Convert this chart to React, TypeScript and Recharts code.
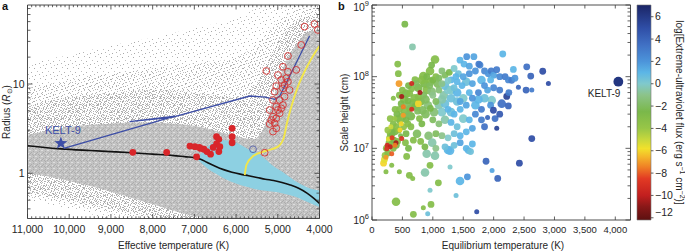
import React from 'react';
import { ComposedChart, Scatter, Line, Area, XAxis, YAxis, ReferenceArea } from 'recharts';

const FONT = '"Liberation Sans", Arial, Helvetica, sans-serif';
const FRAME = '#3a3a3a';
const INK = '#262626';

/* ================= Panel a ================= */
const teffMajor = [11000, 10000, 9000, 8000, 7000, 6000, 5000, 4000];
const teffMinorSteps = [100, 200, 300, 400, 500, 600, 700, 800, 900];
const teffTicks = [...teffMajor, ...teffMajor.slice(1).flatMap((m) => teffMinorSteps.map((s) => m + s))];
const radiusMajor = [1, 10];
const radiusMinor = [0.4, 0.5, 0.6, 0.7, 0.8, 0.9, 2, 3, 4, 5, 6, 7, 8, 9, 20, 30, 40, 50, 60, 70];
const radiusTicks = [...radiusMajor, ...radiusMinor];

// grey stellar cloud, lower / upper envelopes (density layers)
const cloudSparse = [
  { t: 11000, lo: 0.5, hi: 16 }, { t: 10500, lo: 0.45, hi: 19 }, { t: 10000, lo: 0.4, hi: 21 },
  { t: 9500, lo: 0.35, hi: 24 }, { t: 9000, lo: 0.312, hi: 27 }, { t: 8000, lo: 0.312, hi: 33 },
  { t: 7000, lo: 0.312, hi: 42 }, { t: 6000, lo: 0.312, hi: 55 }, { t: 5500, lo: 0.312, hi: 70 },
  { t: 5000, lo: 0.312, hi: 76.7 }, { t: 4000, lo: 0.312, hi: 76.7 },
];
const cloudLight = [
  { t: 11000, lo: 0.55, hi: 9 }, { t: 10000, lo: 0.45, hi: 11 }, { t: 9000, lo: 0.36, hi: 13 },
  { t: 8000, lo: 0.312, hi: 15 }, { t: 7000, lo: 0.312, hi: 17 }, { t: 6000, lo: 0.312, hi: 20 },
  { t: 5500, lo: 0.312, hi: 28 }, { t: 5000, lo: 0.312, hi: 50 }, { t: 4500, lo: 0.312, hi: 68 },
  { t: 4000, lo: 0.312, hi: 72 },
];
const cloudMedium = [
  { t: 11000, lo: 0.62, hi: 5.5 }, { t: 10500, lo: 0.56, hi: 6.5 }, { t: 10000, lo: 0.5, hi: 7 },
  { t: 9000, lo: 0.4, hi: 8 }, { t: 8000, lo: 0.33, hi: 8.5 }, { t: 7500, lo: 0.312, hi: 8.5 },
  { t: 7000, lo: 0.312, hi: 8 }, { t: 6500, lo: 0.312, hi: 7.5 }, { t: 6000, lo: 0.312, hi: 7 },
  { t: 5600, lo: 0.312, hi: 9 }, { t: 5300, lo: 0.312, hi: 15 }, { t: 5000, lo: 0.312, hi: 30 },
  { t: 4700, lo: 0.312, hi: 45 }, { t: 4400, lo: 0.312, hi: 55 }, { t: 4000, lo: 0.312, hi: 60 },
];
const cloudDense = [
  { t: 11000, lo: 1.0, hi: 2.7 }, { t: 10500, lo: 0.92, hi: 3.0 }, { t: 10000, lo: 0.82, hi: 3.3 },
  { t: 9500, lo: 0.72, hi: 3.5 }, { t: 9000, lo: 0.62, hi: 3.6 }, { t: 8500, lo: 0.53, hi: 3.7 },
  { t: 8000, lo: 0.45, hi: 3.7 }, { t: 7500, lo: 0.38, hi: 3.6 }, { t: 7000, lo: 0.33, hi: 3.4 },
  { t: 6500, lo: 0.312, hi: 3.0 }, { t: 6000, lo: 0.312, hi: 2.6 }, { t: 5600, lo: 0.312, hi: 2.4 },
  { t: 5300, lo: 0.312, hi: 3.5 }, { t: 5100, lo: 0.312, hi: 7 }, { t: 4900, lo: 0.312, hi: 14 },
  { t: 4700, lo: 0.312, hi: 22 }, { t: 4500, lo: 0.312, hi: 30 }, { t: 4300, lo: 0.312, hi: 38 },
  { t: 4000, lo: 0.312, hi: 40 },
];
// cyan sample (cooler dwarfs)
const cyanRegion = [
  { t: 6900, lo: 1.4, hi: 1.55 }, { t: 6700, lo: 1.15, hi: 1.95 }, { t: 6500, lo: 1.0, hi: 2.25 },
  { t: 6300, lo: 0.88, hi: 2.35 }, { t: 6100, lo: 0.8, hi: 2.3 }, { t: 5900, lo: 0.74, hi: 2.1 },
  { t: 5700, lo: 0.7, hi: 1.85 }, { t: 5500, lo: 0.66, hi: 1.7 }, { t: 5300, lo: 0.64, hi: 1.45 },
  { t: 5100, lo: 0.62, hi: 1.2 }, { t: 4900, lo: 0.6, hi: 1.05 }, { t: 4700, lo: 0.57, hi: 0.9 },
  { t: 4500, lo: 0.53, hi: 0.78 }, { t: 4300, lo: 0.48, hi: 0.7 }, { t: 4000, lo: 0.42, hi: 0.64 },
];
// zero-age main sequence (black)
const zamsLine = [
  { t: 11000, r: 2.04 }, { t: 10200, r: 1.88 }, { t: 9500, r: 1.8 }, { t: 9000, r: 1.75 },
  { t: 8500, r: 1.7 }, { t: 8000, r: 1.64 }, { t: 7500, r: 1.58 }, { t: 7200, r: 1.53 },
  { t: 7000, r: 1.5 }, { t: 6850, r: 1.44 }, { t: 6700, r: 1.33 }, { t: 6500, r: 1.2 },
  { t: 6300, r: 1.1 }, { t: 6100, r: 1.03 }, { t: 5900, r: 0.98 }, { t: 5700, r: 0.94 },
  { t: 5500, r: 0.9 }, { t: 5300, r: 0.86 }, { t: 5100, r: 0.83 }, { t: 4900, r: 0.79 },
  { t: 4700, r: 0.74 }, { t: 4500, r: 0.68 }, { t: 4300, r: 0.6 }, { t: 4150, r: 0.53 },
  { t: 4000, r: 0.46 },
];
// KELT-9 evolutionary track (blue)
const keltTrack = [
  { t: 10132, r: 1.9 }, { t: 7464, r: 4.38 }, { t: 8555, r: 3.79 }, { t: 7536, r: 4.22 },
  { t: 5672, r: 7.34 }, { t: 5300, r: 7.15 }, { t: 5075, r: 6.75 }, { t: 4956, r: 7.3 },
  { t: 4239, r: 34.5 },
];
// yellow track
const yellowTrack = [
  { t: 5792, r: 0.957 }, { t: 5752, r: 1.24 }, { t: 5593, r: 1.56 }, { t: 5274, r: 1.79 },
  { t: 4996, r: 1.99 }, { t: 4860, r: 2.47 }, { t: 4781, r: 3.63 }, { t: 4676, r: 5.57 },
  { t: 4518, r: 9.33 }, { t: 4279, r: 16.3 }, { t: 4120, r: 22 }, { t: 4000, r: 26.6 },
];
const hostsFilled = [
  { t: 8475, r: 1.72 }, { t: 7663, r: 1.72 }, { t: 7106, r: 2.02 }, { t: 6987, r: 1.99 },
  { t: 6883, r: 1.95 }, { t: 6771, r: 1.86 }, { t: 6946, r: 1.53 }, { t: 6612, r: 1.64 },
  { t: 6468, r: 2.57 }, { t: 6413, r: 2.4 }, { t: 6468, r: 2.13 }, { t: 6389, r: 1.99 },
  { t: 6413, r: 1.75 }, { t: 6095, r: 3.19 }, { t: 6095, r: 2.57 }, { t: 6095, r: 2.2 },
  { t: 6549, r: 1.95 }, { t: 6700, r: 1.75 }, { t: 6850, r: 1.9 },
];
const hostsOpen = [
  { t: 4359, r: 43.9 }, { t: 4120, r: 47 }, { t: 4040, r: 40.3 }, { t: 4438, r: 27.4 },
  { t: 4757, r: 20.6 }, { t: 4876, r: 15.6 }, { t: 4558, r: 14.4 }, { t: 5275, r: 14.0 },
  { t: 4996, r: 12.6 }, { t: 4916, r: 11.1 }, { t: 4757, r: 10.6 }, { t: 4837, r: 9.75 },
  { t: 5036, r: 9.5 }, { t: 4876, r: 8.94 }, { t: 5075, r: 8.2 }, { t: 4717, r: 8.57 },
  { t: 4837, r: 7.22 }, { t: 4956, r: 6.62 }, { t: 5115, r: 6.62 }, { t: 5036, r: 5.57 },
  { t: 4916, r: 5.34 }, { t: 4996, r: 5.12 }, { t: 5195, r: 5.12 }, { t: 5115, r: 4.31 },
  { t: 4956, r: 4.7 }, { t: 5036, r: 4.13 }, { t: 5155, r: 3.95 }, { t: 5075, r: 3.63 },
  { t: 5195, r: 3.57 }, { t: 5036, r: 3.19 }, { t: 5115, r: 2.93 }, { t: 5314, r: 1.7 },
  { t: 4876, r: 5.82 }, { t: 4797, r: 11.6 }, { t: 4757, r: 13.7 },
];
const hostsOpenBlue = [{ t: 5593, r: 1.86 }];
const kelt9Star = [{ t: 10200, r: 2.17, name: 'KELT-9' }];

/* ================= Panel b ================= */
const teqTicks = [0, 500, 1000, 1500, 2000, 2500, 3000, 3500, 4000];
const heightMajor = [1e6, 1e7, 1e8, 1e9];
const heightMinor = [1e6, 1e7, 1e8].flatMap((d) => [2, 3, 4, 5, 6, 7, 8, 9].map((k) => k * d));
const heightTicks = [...heightMajor, ...heightMinor];
const euvTicks = [-12, -10, -8, -6, -4, -2, 0, 2, 4, 6];

// t: equilibrium temperature (K), h: scale height (cm), v: log EUV flux, z: size class
const planetsCool = [
  { t: 190, h: 6.2e6, v: -6, z: 2 }, { t: 205, h: 7.0e6, v: -5.5, z: 2 }, { t: 215, h: 8.0e6, v: -4, z: 2 },
  { t: 230, h: 7.5e6, v: -7, z: 1 }, { t: 230, h: 4.7e6, v: -3, z: 1 }, { t: 324, h: 5.8e6, v: -3, z: 1 },
  { t: 324, h: 8.4e6, v: -8, z: 1 }, { t: 250, h: 1.1e7, v: -9.5, z: 1 }, { t: 235, h: 1.0e7, v: -3, z: 2 },
  { t: 280, h: 1.2e7, v: -3.5, z: 2 }, { t: 300, h: 1.05e7, v: -10, z: 1 }, { t: 320, h: 1.15e7, v: -3, z: 2 },
  { t: 350, h: 1.0e7, v: -3, z: 2 }, { t: 270, h: 1.35e7, v: -5.5, z: 1 }, { t: 330, h: 1.4e7, v: -8.5, z: 1 },
  { t: 300, h: 1.6e7, v: -3, z: 2 }, { t: 360, h: 1.3e7, v: -2.5, z: 2 }, { t: 394, h: 1.2e7, v: -10.5, z: 1 },
  { t: 400, h: 1.1e7, v: -2.5, z: 2 }, { t: 420, h: 1.25e7, v: -3, z: 2 }, { t: 340, h: 1.8e7, v: -3, z: 2 },
  { t: 380, h: 1.7e7, v: -2.5, z: 2 }, { t: 310, h: 2.0e7, v: -5, z: 1 }, { t: 350, h: 2.2e7, v: -3, z: 2 },
  { t: 400, h: 2.0e7, v: -3, z: 2 }, { t: 440, h: 1.8e7, v: -3.5, z: 2 }, { t: 470, h: 1.5e7, v: -2.5, z: 1 },
  { t: 420, h: 2.6e7, v: -3, z: 2 }, { t: 460, h: 1.8e7, v: -6, z: 1 }, { t: 480, h: 2.2e7, v: -6, z: 1 },
  { t: 488, h: 1.37e7, v: -9, z: 1 }, { t: 378, h: 1.1e7, v: -7.5, z: 1 }, { t: 242, h: 9.9e6, v: -9, z: 1 },
  { t: 500, h: 2.8e7, v: -3, z: 3 }, { t: 515, h: 2.9e7, v: -7, z: 1 }, { t: 515, h: 3.8e7, v: -7.5, z: 1 },
  { t: 545, h: 3.3e7, v: -3, z: 3 }, { t: 560, h: 2.5e7, v: -2.5, z: 2 }, { t: 590, h: 2.2e7, v: -3, z: 2 },
  { t: 600, h: 3.0e7, v: -2, z: 2 }, { t: 620, h: 3.6e7, v: -3, z: 2 }, { t: 653, h: 3.5e7, v: -9, z: 1 },
  { t: 488, h: 5.3e7, v: -10.5, z: 1 }, { t: 444, h: 8.0e7, v: -7, z: 2 }, { t: 653, h: 8.0e7, v: -9.5, z: 1 },
  { t: 351, h: 5.0e7, v: -3, z: 1 }, { t: 433, h: 1.1e8, v: -3, z: 2 }, { t: 423, h: 1.5e8, v: -3, z: 2 },
  { t: 540, h: 5.4e8, v: -2.5, z: 2 }, { t: 665, h: 2.6e8, v: -0.5, z: 2 }, { t: 450, h: 3.5e7, v: -3, z: 2 },
  { t: 480, h: 4.2e7, v: -2.5, z: 2 }, { t: 530, h: 4.8e7, v: -3, z: 3 }, { t: 580, h: 4.0e7, v: -2, z: 2 },
  { t: 620, h: 5.8e7, v: -3, z: 2 }, { t: 410, h: 3.0e7, v: -2.5, z: 2 }, { t: 370, h: 2.6e7, v: -4, z: 1 },
  { t: 560, h: 1.6e7, v: -2.5, z: 2 }, { t: 640, h: 2.0e7, v: -3, z: 2 }, { t: 520, h: 2.0e7, v: -3.5, z: 2 },
  { t: 570, h: 7.7e6, v: -3, z: 2 }, { t: 450, h: 4.7e6, v: -3, z: 1 }, { t: 614, h: 4.2e6, v: -3, z: 2 },
  { t: 669, h: 3.8e6, v: -3, z: 1 }, { t: 395, h: 1.8e6, v: -3, z: 3 }, { t: 680, h: 1.2e6, v: -3, z: 2 },
  { t: 550, h: 1.2e7, v: -3, z: 2 }, { t: 600, h: 1.0e7, v: -2.5, z: 2 }, { t: 680, h: 1.3e7, v: -3, z: 2 },
  { t: 260, h: 8.6e6, v: -3, z: 2 }, { t: 290, h: 1.4e7, v: -3, z: 2 }, { t: 330, h: 1.6e7, v: -2.5, z: 2 },
  { t: 460, h: 2.4e7, v: -3, z: 2 }, { t: 590, h: 4.6e7, v: -2.5, z: 2 }, { t: 640, h: 2.8e7, v: -2.5, z: 3 },
  { t: 560, h: 5.8e7, v: -2.5, z: 3 }, { t: 650, h: 6.8e7, v: -3, z: 2 }, { t: 680, h: 4.3e7, v: -2.5, z: 3 },
  { t: 500, h: 6.5e7, v: -3, z: 2 }, { t: 600, h: 7.5e7, v: -2.5, z: 2 }, { t: 380, h: 3.5e7, v: -3, z: 2 },
  { t: 300, h: 2.6e7, v: -3.5, z: 2 }, { t: 260, h: 1.8e7, v: -4, z: 2 }, { t: 450, h: 5.5e7, v: -3, z: 2 },
];
const planetsWarm = [
  { t: 707, h: 9.1e7, v: -3, z: 2 }, { t: 789, h: 6.0e7, v: -10.5, z: 1 }, { t: 762, h: 4.2e7, v: -6, z: 2 },
  { t: 700, h: 5.0e7, v: -3, z: 3 }, { t: 720, h: 3.8e7, v: -2.5, z: 3 }, { t: 750, h: 3.3e7, v: -2, z: 2 },
  { t: 800, h: 4.5e7, v: -2.5, z: 3 }, { t: 844, h: 1.02e8, v: -3, z: 3 }, { t: 954, h: 1.2e8, v: -3, z: 3 },
  { t: 1036, h: 1.74e8, v: -3, z: 3 }, { t: 870, h: 8.0e7, v: -2.5, z: 3 }, { t: 900, h: 6.5e7, v: -3, z: 3 },
  { t: 950, h: 7.5e7, v: -2, z: 2 }, { t: 1000, h: 9.0e7, v: -2.5, z: 2 }, { t: 1050, h: 1.0e8, v: -3, z: 2 },
  { t: 1100, h: 9.5e7, v: -2, z: 2 }, { t: 850, h: 5.5e7, v: -2, z: 2 }, { t: 780, h: 2.6e7, v: -3, z: 2 },
  { t: 820, h: 2.2e7, v: -2.5, z: 2 }, { t: 880, h: 3.0e7, v: -2, z: 3 }, { t: 920, h: 4.0e7, v: -1.5, z: 3 },
  { t: 960, h: 3.6e7, v: -2.5, z: 2 }, { t: 1000, h: 5.5e7, v: -1, z: 2 }, { t: 1050, h: 4.5e7, v: -2, z: 2 },
  { t: 1100, h: 6.5e7, v: -1.5, z: 2 }, { t: 1150, h: 8.0e7, v: -1, z: 2 }, { t: 1200, h: 1.05e8, v: -2, z: 2 },
  { t: 1270, h: 1.15e8, v: -2.5, z: 2 }, { t: 1180, h: 5.5e7, v: -0.5, z: 3 }, { t: 1250, h: 6.5e7, v: 0, z: 3 },
  { t: 1100, h: 4.0e7, v: -0.5, z: 3 }, { t: 1150, h: 3.2e7, v: 0, z: 3 }, { t: 1200, h: 4.2e7, v: 0.5, z: 3 },
  { t: 1250, h: 3.5e7, v: 1, z: 2 }, { t: 1200, h: 2.5e7, v: -0.5, z: 3 }, { t: 1100, h: 2.2e7, v: -1.5, z: 2 },
  { t: 1000, h: 2.5e7, v: -2, z: 2 }, { t: 1250, h: 1.4e7, v: 0, z: 2 }, { t: 1150, h: 1.5e7, v: -1, z: 2 },
  { t: 1050, h: 1.6e7, v: -2, z: 2 }, { t: 740, h: 1.6e7, v: -2, z: 3 }, { t: 800, h: 1.25e7, v: -3, z: 2 },
  { t: 870, h: 1.05e7, v: -2.5, z: 2 }, { t: 930, h: 1.5e7, v: -1.5, z: 3 }, { t: 990, h: 1.2e7, v: -0.5, z: 3 },
  { t: 1050, h: 1.0e7, v: -1, z: 2 }, { t: 1200, h: 1.05e7, v: 0.5, z: 2 }, { t: 1250, h: 9.5e6, v: 1, z: 3 },
  { t: 899, h: 8.4e6, v: -0.5, z: 3 }, { t: 1036, h: 7.9e6, v: -0.5, z: 3 }, { t: 954, h: 5.8e6, v: -3, z: 2 },
  { t: 872, h: 4.6e6, v: -0.5, z: 3 }, { t: 1091, h: 3.3e6, v: -3, z: 2 }, { t: 954, h: 2.6e6, v: 0, z: 1 },
  { t: 844, h: 1.48e6, v: -3, z: 1 }, { t: 970, h: 1.65e6, v: -3, z: 2 }, { t: 916, h: 1.22e6, v: 0.5, z: 1 },
  { t: 760, h: 7.0e7, v: -2.5, z: 3 }, { t: 980, h: 1.45e8, v: -2.5, z: 2 }, { t: 1150, h: 1.2e8, v: -1.5, z: 2 },
  { t: 830, h: 3.4e7, v: -2, z: 3 }, { t: 1020, h: 3.2e7, v: -1.5, z: 3 },
  { t: 720, h: 8.0e7, v: -2, z: 2 }, { t: 820, h: 9.0e7, v: -3, z: 3 }, { t: 900, h: 1.0e8, v: -2.5, z: 2 },
  { t: 960, h: 8.5e7, v: -3, z: 3 }, { t: 1080, h: 8.0e7, v: -2, z: 3 }, { t: 760, h: 5.2e7, v: -3, z: 2 },
  { t: 880, h: 4.8e7, v: -2, z: 3 }, { t: 980, h: 6.2e7, v: -1.5, z: 3 }, { t: 1150, h: 4.8e7, v: -0.5, z: 3 },
];
const planetsHot = [
  { t: 1283, h: 9.3e6, v: 1, z: 3 }, { t: 1283, h: 5.5e6, v: 0, z: 1 }, { t: 1447, h: 3.5e6, v: 1, z: 3 },
  { t: 1568, h: 4.0e6, v: 2, z: 2 }, { t: 1382, h: 2.2e6, v: 0.5, z: 1 }, { t: 1722, h: 1.3e6, v: 5, z: 1 },
  { t: 1875, h: 6.6e6, v: 4, z: 2 }, { t: 1974, h: 4.9e6, v: 1.5, z: 1 }, { t: 2067, h: 3.8e6, v: 4, z: 2 },
  { t: 2423, h: 6.2e6, v: 5, z: 2 }, { t: 1584, h: 9.3e6, v: 1, z: 2 }, { t: 1300, h: 5.0e7, v: 0.5, z: 3 },
  { t: 1350, h: 7.0e7, v: 0.5, z: 2 }, { t: 1400, h: 8.5e7, v: 1, z: 2 }, { t: 1447, h: 1.7e8, v: 1, z: 2 },
  { t: 1513, h: 1.5e8, v: 1, z: 2 }, { t: 1557, h: 1.9e8, v: 2, z: 2 }, { t: 1350, h: 1.3e8, v: 0, z: 2 },
  { t: 1300, h: 9.0e7, v: 1, z: 2 }, { t: 1420, h: 1.1e8, v: 0.5, z: 2 }, { t: 1500, h: 1.0e8, v: 1.5, z: 2 },
  { t: 1600, h: 1.1e8, v: 2, z: 2 }, { t: 1675, h: 1.9e8, v: 1.5, z: 2 }, { t: 1776, h: 1.45e8, v: 2.5, z: 2 },
  { t: 1756, h: 1.5e8, v: 3, z: 2 }, { t: 1850, h: 1.2e8, v: 2.5, z: 2 }, { t: 1913, h: 1.1e8, v: 2, z: 2 },
  { t: 1960, h: 1.2e8, v: 3, z: 2 }, { t: 2000, h: 1.05e8, v: 1.5, z: 2 }, { t: 2050, h: 1.25e8, v: 3, z: 2 },
  { t: 2100, h: 1.0e8, v: 2.5, z: 2 }, { t: 2150, h: 2.07e8, v: 1, z: 2 }, { t: 2188, h: 1.0e8, v: 3, z: 2 },
  { t: 2242, h: 9.0e7, v: 2.5, z: 2 }, { t: 2297, h: 8.9e7, v: 3, z: 2 }, { t: 2324, h: 1.26e8, v: 1, z: 2 },
  { t: 2215, h: 5.3e7, v: 5.5, z: 2 }, { t: 2133, h: 4.2e7, v: 3.5, z: 3 }, { t: 2242, h: 3.9e7, v: 4, z: 2 },
  { t: 2051, h: 1.9e7, v: 5.5, z: 1 }, { t: 2023, h: 2.6e7, v: 3.5, z: 2 }, { t: 1968, h: 4.7e7, v: 0, z: 3 },
  { t: 1350, h: 3.0e7, v: 1, z: 2 }, { t: 1400, h: 4.5e7, v: 0.5, z: 3 }, { t: 1450, h: 3.5e7, v: 1, z: 2 },
  { t: 1500, h: 5.0e7, v: 0, z: 3 }, { t: 1550, h: 4.0e7, v: 1.5, z: 2 }, { t: 1600, h: 6.0e7, v: 1, z: 2 },
  { t: 1650, h: 5.0e7, v: 2, z: 2 }, { t: 1700, h: 4.0e7, v: 1, z: 3 }, { t: 1750, h: 6.0e7, v: 2.5, z: 2 },
  { t: 1800, h: 3.5e7, v: 3, z: 2 }, { t: 1850, h: 5.0e7, v: 0.5, z: 3 }, { t: 1900, h: 6.5e7, v: 1.5, z: 2 },
  { t: 1950, h: 4.0e7, v: 2, z: 2 }, { t: 1996, h: 3.4e7, v: 5, z: 2 }, { t: 1900, h: 2.7e7, v: 4, z: 1 },
  { t: 1800, h: 2.5e7, v: 3, z: 2 }, { t: 1700, h: 3.0e7, v: 2.5, z: 2 }, { t: 1600, h: 2.5e7, v: 1, z: 2 },
  { t: 1500, h: 2.6e7, v: 0, z: 3 }, { t: 1400, h: 2.0e7, v: 0.5, z: 2 }, { t: 1300, h: 2.3e7, v: 1, z: 2 },
  { t: 1650, h: 1.9e7, v: 1.5, z: 2 }, { t: 1550, h: 1.7e7, v: 1, z: 2 }, { t: 1450, h: 1.5e7, v: 1, z: 2 },
  { t: 1350, h: 1.6e7, v: 0.5, z: 2 }, { t: 1350, h: 1.1e7, v: 0.5, z: 2 }, { t: 1450, h: 1.2e7, v: 1.5, z: 2 },
  { t: 1550, h: 1.0e7, v: 1, z: 2 }, { t: 1650, h: 1.15e7, v: 1, z: 2 }, { t: 1620, h: 9.0e6, v: 0.5, z: 2 },
  { t: 2100, h: 3.0e7, v: 4.5, z: 2 }, { t: 1850, h: 2.0e7, v: 3.5, z: 2 }, { t: 2250, h: 6.0e7, v: 3, z: 2 },
  { t: 2350, h: 9.5e7, v: 2, z: 2 },
  { t: 1200, h: 7.5e7, v: 0.5, z: 3 }, { t: 1300, h: 6.5e7, v: 0, z: 3 }, { t: 1400, h: 6.0e7, v: 1, z: 3 },
  { t: 1480, h: 7.5e7, v: 1, z: 2 }, { t: 1550, h: 8.5e7, v: 0.5, z: 3 }, { t: 1650, h: 8.0e7, v: 1.5, z: 2 },
  { t: 1700, h: 1.2e8, v: 2, z: 2 }, { t: 1800, h: 9.0e7, v: 1, z: 3 }, { t: 1380, h: 1.0e8, v: 1, z: 2 },
  { t: 1250, h: 8.8e7, v: 0, z: 2 }, { t: 1600, h: 1.4e8, v: 1.5, z: 2 }, { t: 1450, h: 4.5e7, v: 1.5, z: 2 },
  { t: 1750, h: 4.8e7, v: 1, z: 3 }, { t: 1850, h: 7.5e7, v: 2, z: 2 }, { t: 2000, h: 7.0e7, v: 2.5, z: 2 },
  { t: 2100, h: 6.5e7, v: 3, z: 2 }, { t: 1950, h: 9.0e7, v: 1, z: 2 }, { t: 1300, h: 3.2e7, v: 0.5, z: 3 },
];
const planetsUltraHot = [
  { t: 2407, h: 7.1e7, v: 4, z: 1 }, { t: 2544, h: 1.37e8, v: 3.5, z: 2 }, { t: 2533, h: 6.5e7, v: 4, z: 2 },
  { t: 2610, h: 1.02e8, v: 4, z: 2 }, { t: 2627, h: 6.5e7, v: 3, z: 1 }, { t: 2807, h: 1.19e8, v: 5, z: 2 },
  { t: 2900, h: 8.0e7, v: 5, z: 1 }, { t: 2627, h: 1.37e7, v: 5, z: 2 },
];
const kelt9b = [{ t: 4050, h: 8.5e7, v: 6.2, z: 4, name: 'KELT-9' }];

/* ================= styling helpers ================= */
const CMAP: [number, string][] = [
  [-12.2, '#5c1010'], [-11, '#8a1818'], [-10, '#c21f1f'], [-8.5, '#e23a24'], [-7.5, '#ef7d25'],
  [-6.5, '#f4b92a'], [-5.8, '#f2e12b'], [-5, '#c8d83c'], [-4, '#98c647'], [-2.5, '#7ab84a'],
  [-1, '#8cc38a'], [0, '#80c9cc'], [1, '#5cb6e6'], [2, '#4c94da'], [3.5, '#4070c4'], [5, '#2f4ea6'],
  [7.05, '#1b2566'],
];
const EUV_MIN = -12.2;
const EUV_MAX = 7.05;
const hex = (c: string) => [1, 3, 5].map((i) => parseInt(c.slice(i, i + 2), 16));
function colorOf(v: number) {
  if (v <= CMAP[0][0]) return CMAP[0][1];
  for (let i = 1; i < CMAP.length; i++) {
    if (v <= CMAP[i][0]) {
      const [v0, c0] = CMAP[i - 1];
      const [v1, c1] = CMAP[i];
      const f = (v - v0) / (v1 - v0);
      const a = hex(c0), b = hex(c1);
      const m = a.map((x, k) => Math.round(x + (b[k] - x) * f));
      return `rgb(${m[0]},${m[1]},${m[2]})`;
    }
  }
  return CMAP[CMAP.length - 1][1];
}
const SIZE_R: Record<number, number> = { 1: 2.5, 2: 3.4, 3: 4.3, 4: 4.9 };
const rng = (d: any) => [d.lo, d.hi];

type Side = 'bottom' | 'top' | 'left' | 'right';
function makeTick(side: Side, isMajor: (v: number) => boolean, majorLen: number, minorLen: number,
  label?: (v: number, x: number, y: number) => React.ReactNode) {
  return (p: any) => {
    const v = p.payload.value;
    const major = isMajor(v);
    const len = major ? majorLen : minorLen;
    const x = Number(p.x), y = Number(p.y);
    let x2 = x, y2 = y;
    if (side === 'bottom') y2 = y - len;
    if (side === 'top') y2 = y + len;
    if (side === 'left') x2 = x + len;
    if (side === 'right') x2 = x - len;
    return (
      <g>
        <line x1={x} y1={y} x2={x2} y2={y2} stroke={FRAME} strokeWidth={0.8} />
        {major && label ? label(v, x, y) : null}
      </g>
    );
  };
}
const isTeffMajor = (v: number) => v % 1000 === 0;
const isRadMajor = (v: number) => radiusMajor.includes(v);
const isHMajor = (v: number) => heightMajor.includes(v);

const tickAB = makeTick('bottom', isTeffMajor, 4.5, 2.2, (v, x, y) => (
  <text x={x} y={y + 14.3} textAnchor="middle" fontSize={10.5} fill={INK} fontFamily={FONT}>{v.toLocaleString('en-US')}</text>
));
const tickAT = makeTick('top', isTeffMajor, 4.5, 2.2);
const tickAL = makeTick('left', isRadMajor, 5, 3, (v, x, y) => (
  <text x={x - 3} y={y + 3.7} textAnchor="end" fontSize={10.5} fill={INK} fontFamily={FONT}>{v}</text>
));
const tickAR = makeTick('right', isRadMajor, 5, 3);

const tickBB = makeTick('bottom', () => true, 3.5, 3.5, (v, x, y) => (
  <text x={x} y={y + 13.3} textAnchor="middle" fontSize={9.5} fill={INK} fontFamily={FONT}>{v.toLocaleString('en-US')}</text>
));
const tickBT = makeTick('top', () => true, 3.5, 3.5);
const tickBL = makeTick('left', isHMajor, 5, 3, (v, x, y) => (
  <text x={x - 3} y={Math.max(y + 3.7, 10.5)} textAnchor="end" fontSize={10.5} fill={INK} fontFamily={FONT}>
    10<tspan dy={-4.3} fontSize={7.5}>{Math.round(Math.log10(v))}</tspan>
  </text>
));
const tickBR = makeTick('right', isHMajor, 5, 3);

const tickCB = (p: any) => {
  const v = p.payload.value;
  const x = Number(p.x), y = Number(p.y);
  const ly = Math.min(y, 212);
  return (
    <g>
      <line x1={x} y1={y} x2={x + 2.5} y2={y} stroke={FRAME} strokeWidth={0.8} />
      <text x={x + 4} y={ly + 3.7} textAnchor="start" fontSize={10.5} fill={INK} fontFamily={FONT}>
        {v < 0 ? `\u2212${Math.abs(v)}` : `${v}`}
      </text>
    </g>
  );
};

const PlanetDot = (p: any) => {
  const d = p.payload;
  return <circle cx={p.cx} cy={p.cy} r={SIZE_R[d.z]} fill={colorOf(d.v)} fillOpacity={0.93} />;
};
const Kelt9bDot = (p: any) => {
  const d = p.payload;
  return (
    <g>
      <circle cx={p.cx} cy={p.cy} r={SIZE_R[d.z]} fill={colorOf(d.v)} />
      <text x={p.cx + 2} y={p.cy + 15} textAnchor="end" fontSize={10} fill={INK} fontFamily={FONT}>{d.name}</text>
    </g>
  );
};
const FilledHost = (p: any) => <circle cx={p.cx} cy={p.cy} r={3.4} fill="#d9262a" />;
const OpenHost = (p: any) => <circle cx={p.cx} cy={p.cy} r={3.4} fill="none" stroke="#d4302f" strokeWidth={0.9} />;
const OpenHostBlue = (p: any) => <circle cx={p.cx} cy={p.cy} r={3.4} fill="none" stroke="#5560a8" strokeWidth={0.9} />;
const StarMark = (p: any) => {
  const pts: string[] = [];
  for (let i = 0; i < 10; i++) {
    const rad = i % 2 === 0 ? 6.8 : 2.8;
    const ang = -Math.PI / 2 + (i * Math.PI) / 5;
    pts.push(`${p.cx + rad * Math.cos(ang)},${p.cy + rad * Math.sin(ang)}`);
  }
  return (
    <g>
      <polygon points={pts.join(' ')} fill="#3d4ea6" />
      <text x={p.cx + 2} y={p.cy - 9.5} textAnchor="middle" fontSize={11} fill="#3d4ea6" fontFamily={FONT}>{p.payload.name}</text>
    </g>
  );
};

const planetsAll = [...planetsCool, ...planetsWarm, ...planetsHot, ...planetsUltraHot]
  .slice()
  .sort((a, b) => b.z - a.z);

const axisLine = { stroke: FRAME, strokeWidth: 0.9 };
const AX = 10;

function PanelA() {
  return (
    <ComposedChart width={340} height={251} margin={{ top: 0, right: 20.5 - AX, bottom: 32.5 - AX, left: 27.5 - AX }}>
      <XAxis xAxisId="b" dataKey="t" type="number" domain={[4000, 11000]} reversed allowDataOverflow
        ticks={teffTicks} interval={0} height={AX} tickSize={0} tickMargin={0} tickLine={false}
        axisLine={axisLine} tick={tickAB} />
      <XAxis xAxisId="t" dataKey="t" type="number" orientation="top" domain={[4000, 11000]} reversed allowDataOverflow
        ticks={teffTicks} interval={0} height={5} tickSize={0} tickMargin={0} tickLine={false}
        axisLine={axisLine} tick={tickAT} />
      <YAxis yAxisId="l" type="number" scale="log" domain={[0.312, 76.7]} allowDataOverflow
        ticks={radiusTicks} interval={0} width={AX} tickSize={0} tickMargin={0} tickLine={false}
        axisLine={axisLine} tick={tickAL} />
      <YAxis yAxisId="r" type="number" orientation="right" scale="log" domain={[0.312, 76.7]} allowDataOverflow
        ticks={radiusTicks} interval={0} width={AX} tickSize={0} tickMargin={0} tickLine={false}
        axisLine={axisLine} tick={tickAR} />
      <Area xAxisId="b" yAxisId="l" data={cloudSparse} dataKey={rng} type="monotone" stroke="none"
        fill="url(#speckSparse)" fillOpacity={1} isAnimationActive={false} dot={false} activeDot={false} />
      <Area xAxisId="b" yAxisId="l" data={cloudLight} dataKey={rng} type="monotone" stroke="none"
        fill="url(#speckLight)" fillOpacity={1} isAnimationActive={false} dot={false} activeDot={false} />
      <Area xAxisId="b" yAxisId="l" data={cloudMedium} dataKey={rng} type="monotone" stroke="none"
        fill="url(#speckMed)" fillOpacity={1} isAnimationActive={false} dot={false} activeDot={false} />
      <Area xAxisId="b" yAxisId="l" data={cloudDense} dataKey={rng} type="monotone" stroke="none"
        fill="url(#speckDense)" fillOpacity={1} isAnimationActive={false} dot={false} activeDot={false} />
      <Area xAxisId="b" yAxisId="l" data={cyanRegion} dataKey={rng} type="monotone" stroke="none"
        fill="#8dd0e2" fillOpacity={1} isAnimationActive={false} dot={false} activeDot={false} />
      <Line xAxisId="b" yAxisId="l" data={zamsLine} dataKey="r" type="monotone" stroke="#111" strokeWidth={1.6}
        dot={false} activeDot={false} isAnimationActive={false} />
      <Line xAxisId="b" yAxisId="l" data={yellowTrack} dataKey="r" type="monotone" stroke="#f2e64a" strokeWidth={1.9}
        dot={false} activeDot={false} isAnimationActive={false} />
      <Line xAxisId="b" yAxisId="l" data={keltTrack} dataKey="r" type="linear" stroke="#3d4ea6" strokeWidth={1.3}
        dot={false} activeDot={false} isAnimationActive={false} />
      <Scatter xAxisId="b" yAxisId="l" data={hostsFilled} dataKey="r" shape={FilledHost} isAnimationActive={false} />
      <Scatter xAxisId="b" yAxisId="l" data={hostsOpen} dataKey="r" shape={OpenHost} isAnimationActive={false} />
      <Scatter xAxisId="b" yAxisId="l" data={hostsOpenBlue} dataKey="r" shape={OpenHostBlue} isAnimationActive={false} />
      <Scatter xAxisId="b" yAxisId="l" data={kelt9Star} dataKey="r" shape={StarMark} isAnimationActive={false} />
    </ComposedChart>
  );
}

function PanelB() {
  return (
    <ComposedChart width={300} height={251} margin={{ top: 0, right: 9.5 - 5, bottom: 31 - AX, left: 32 - AX }}>
      <XAxis xAxisId="b" dataKey="t" type="number" domain={[0, 4250]} allowDataOverflow
        ticks={teqTicks} interval={0} height={AX} tickSize={0} tickMargin={0} tickLine={false}
        axisLine={axisLine} tick={tickBB} />
      <XAxis xAxisId="t" dataKey="t" type="number" orientation="top" domain={[0, 4250]} allowDataOverflow
        ticks={teqTicks} interval={0} height={5} tickSize={0} tickMargin={0} tickLine={false}
        axisLine={axisLine} tick={tickBT} />
      <YAxis yAxisId="l" type="number" scale="log" domain={[1e6, 1e9]} allowDataOverflow
        ticks={heightTicks} interval={0} width={AX} tickSize={0} tickMargin={0} tickLine={false}
        axisLine={axisLine} tick={tickBL} />
      <YAxis yAxisId="r" type="number" orientation="right" scale="log" domain={[1e6, 1e9]} allowDataOverflow
        ticks={heightTicks} interval={0} width={5} tickSize={0} tickMargin={0} tickLine={false}
        axisLine={axisLine} tick={tickBR} />
      <Scatter xAxisId="b" yAxisId="l" data={planetsAll} dataKey="h" shape={PlanetDot} isAnimationActive={false} />
      <Scatter xAxisId="b" yAxisId="l" data={kelt9b} dataKey="h" shape={Kelt9bDot} isAnimationActive={false} />
    </ComposedChart>
  );
}

const cbPos = [{ x: 0.5, v: 0 }];
function ColorBar() {
  return (
    <ComposedChart width={55} height={251} margin={{ top: 5, right: 34 - AX, bottom: 31, left: 7 }}>
      <XAxis xAxisId="c" dataKey="x" type="number" domain={[0, 1]} hide />
      <YAxis yAxisId="c" type="number" orientation="right" domain={[EUV_MIN, EUV_MAX]} allowDataOverflow
        ticks={euvTicks} interval={0} width={AX} tickSize={0} tickMargin={0} tickLine={false}
        axisLine={false} tick={tickCB} />
      <ReferenceArea xAxisId="c" yAxisId="c" x1={0} x2={1} y1={EUV_MIN} y2={EUV_MAX}
        fill="url(#cbarGrad)" fillOpacity={1} stroke="#777" strokeWidth={0.6} ifOverflow="visible" />
      <Scatter xAxisId="c" yAxisId="c" data={cbPos} dataKey="v" shape={() => <g />} isAnimationActive={false} />
    </ComposedChart>
  );
}

// speckle tiles (texture of the stellar cloud)
const SPARSE_DOTS = [[1, 2], [7, 1], [4, 5], [9, 6], [2, 9], [6, 8], [10, 10]];
const LIGHT_DOTS = [[0, 1], [3, 0], [6, 2], [8, 5], [1, 4], [4, 6], [7, 8], [2, 7], [5, 3]];
const MED_DOTS = [[0, 0], [2, 1], [5, 0], [4, 2], [6, 3], [1, 3], [3, 4], [0, 5], [5, 5], [2, 6], [6, 6]];
const DENSE_DOTS = [[0, 0], [3, 1], [1, 2], [4, 3], [2, 4], [0, 3], [5, 0], [5, 4], [3, 5]];
const GREYS = ['#a9a9a9', '#b6b6b6', '#c0c0c0', '#afafaf'];

function Defs() {
  const stops = CMAP.map(([v, c]) => ({ off: (v - EUV_MIN) / (EUV_MAX - EUV_MIN), c }));
  return (
    <svg width={0} height={0} style={{ position: 'absolute' }}>
      <defs>
        <pattern id="speckSparse" width={11} height={11} patternUnits="userSpaceOnUse">
          {SPARSE_DOTS.map(([x, y], i) => <rect key={i} x={x} y={y} width={1} height={1} fill={GREYS[i % 4]} />)}
        </pattern>
        <pattern id="speckLight" width={9} height={9} patternUnits="userSpaceOnUse">
          {LIGHT_DOTS.map(([x, y], i) => <rect key={i} x={x} y={y} width={1} height={1} fill={GREYS[(i + 1) % 4]} />)}
        </pattern>
        <pattern id="speckMed" width={7} height={7} patternUnits="userSpaceOnUse">
          {MED_DOTS.map(([x, y], i) => <rect key={i} x={x} y={y} width={1} height={1} fill={GREYS[(i + 2) % 4]} />)}
        </pattern>
        <pattern id="speckDense" width={6} height={6} patternUnits="userSpaceOnUse">
          <rect x={0} y={0} width={6} height={6} fill="#c3c3c3" />
          {DENSE_DOTS.map(([x, y], i) => (
            <rect key={i} x={x} y={y} width={1} height={1} fill={i % 3 === 0 ? '#dedede' : '#acacac'} />
          ))}
        </pattern>
        <linearGradient id="cbarGrad" x1="0" y1="1" x2="0" y2="0">
          {stops.map((s, i) => <stop key={i} offset={s.off} stopColor={s.c} />)}
        </linearGradient>
      </defs>
    </svg>
  );
}

export default function App() {
  return (
    <div style={{ position: 'absolute', left: 0, top: 0, width: 685, height: 251, background: '#fff', overflow: 'hidden', fontFamily: FONT }}>
      <Defs />
      <div style={{ position: 'absolute', left: 0, top: 0 }}><PanelA /></div>
      <div style={{ position: 'absolute', left: 340, top: 0 }}><PanelB /></div>
      <div style={{ position: 'absolute', left: 630, top: 0 }}><ColorBar /></div>
      <svg width={685} height={251} style={{ position: 'absolute', left: 0, top: 0, pointerEvents: 'none' }} fontFamily={FONT}>
        <text x={2} y={10} fontSize={11} fontWeight="bold" fill="#111">a</text>
        <text x={338} y={10} fontSize={11} fontWeight="bold" fill="#111">b</text>
        <text x={173.5} y={248.5} fontSize={10} textAnchor="middle" fill={INK}>Effective temperature (K)</text>
        <text x={503} y={248.5} fontSize={10} textAnchor="middle" fill={INK}>Equilibrium temperature (K)</text>
        <text x={9.5} y={112} fontSize={10} textAnchor="middle" fill={INK} transform="rotate(-90 9.5 112)">
          Radius (<tspan fontStyle="italic">R</tspan><tspan fontSize={7} dy={2}>⊙</tspan><tspan dy={-2}>)</tspan>
        </text>
        <text x={348} y={112.5} fontSize={10} textAnchor="middle" fill={INK} transform="rotate(-90 348 112.5)">Scale height (cm)</text>
        <text x={676} y={112.5} fontSize={10} textAnchor="middle" fill={INK} transform="rotate(90 676 112.5)">
          log[Extreme-ultraviolet flux (erg s<tspan fontSize={7} dy={-4}>−1</tspan><tspan dy={4}> cm</tspan><tspan fontSize={7} dy={-4}>−2</tspan><tspan dy={4}>)]</tspan>
        </text>
      </svg>
    </div>
  );
}
